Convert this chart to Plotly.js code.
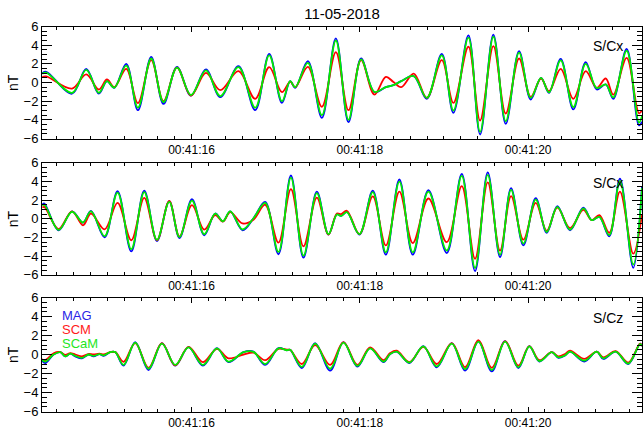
<!DOCTYPE html>
<html><head><meta charset="utf-8">
<script src="https://cdn.plot.ly/plotly-3.0.1.min.js"></script>
<style>html,body{margin:0;padding:0;background:#fff}#chart{width:644px;height:431px}</style>
</head><body><div id="chart"></div>
<script>
const chartTitle = '11-05-2018';
const seriesNames = ['MAG', 'SCM', 'SCaM'];
const tickVals = [16, 18, 20];
const tickText = ['00:41:16', '00:41:18', '00:41:20'];
const yTicks = [-6, -4, -2, 0, 2, 4, 6];
const panelLabels = ['S/Cx', 'S/Cx', 'S/Cz'];
const yTitle = 'nT';

// time: seconds after 00:41:00
const t1 = [14.227,14.274,14.580,14.749,14.898,14.995,15.082,15.224,15.363,15.521,15.667,15.827,15.993,16.171,16.341,16.558,16.757,16.923,17.074,17.172,17.232,17.382,17.549,17.715,17.865,18.015,18.173,18.309,18.399,18.491,18.641,18.796,18.974,19.112,19.290,19.429,19.587,19.734,19.892,20.031,20.153,20.248,20.387,20.537,20.684,20.815,20.922,21.012,21.171,21.317,21.353];
const mag1 = [1.0,1.15,-1.2,1.45,-1.2,0.14,-0.57,2.0,-2.97,2.75,-2.3,1.68,-1.4,1.4,-1.57,1.75,-2.97,3.07,-2.18,0.14,-0.57,2.29,-3.79,4.72,-4.25,2.57,-1.04,-0.5,-0.29,0.14,0.68,-1.75,3.07,-3.25,5.04,-5.57,5.14,-4.43,3.36,-1.82,0.5,-1.1,2.54,-2.89,2.18,-0.75,-0.2,-1.75,3.61,-4.6,-4.2];
const scm1 = [0.6,0.65,-0.65,0.86,-0.75,0.32,-0.5,1.47,-2.2,2.4,-2.0,1.6,-1.4,1.04,-0.82,1.21,-1.75,1.64,-1.04,0.1,-0.5,1.68,-2.6,3.25,-2.97,2.4,-1.29,0.61,0.05,-0.5,0.96,-1.64,2.39,-2.18,3.83,-4.07,3.9,-3.32,2.57,-1.54,0.43,-0.93,1.47,-1.75,1.21,-0.57,0.43,-1.3,2.64,-3.3,-3.0];
const scam1 = [0.95,1.05,-1.1,1.35,-1.1,0.14,-0.55,1.8,-2.7,2.57,-2.1,1.6,-1.35,1.3,-1.45,1.65,-2.7,2.9,-2.0,0.14,-0.5,2.1,-3.5,4.5,-4.0,2.47,-1.0,-0.5,-0.29,0.14,0.68,-1.65,2.9,-3.0,4.8,-5.3,4.9,-4.15,3.2,-1.64,0.5,-1.05,2.36,-2.64,2.0,-0.6,-0.2,-1.6,3.4,-4.3,-3.6];

const t2 = [14.227,14.251,14.420,14.580,14.710,14.805,14.967,15.121,15.284,15.438,15.589,15.735,15.857,16.005,16.151,16.281,16.373,16.460,16.606,16.736,16.875,17.033,17.181,17.330,17.489,17.627,17.727,17.778,17.846,17.995,18.154,18.309,18.470,18.629,18.815,19.033,19.211,19.369,19.520,19.666,19.797,19.943,20.090,20.221,20.347,20.498,20.656,20.755,20.846,20.964,21.091,21.249,21.353];
const mag2 = [1.5,1.63,-1.23,0.8,-0.41,0.84,-2.0,2.96,-3.5,3.0,-2.38,1.88,-2.06,2.1,-1.77,0.56,-0.27,0.8,-1.23,0.05,1.8,-3.8,4.63,-4.17,2.9,-1.7,0.48,0.3,0.73,-1.7,3.0,-3.85,4.2,-3.85,3.07,-3.67,4.8,-5.6,4.96,-4.1,3.28,-2.85,2.2,-1.5,1.35,-1.23,1.2,-0.15,0.2,-1.88,4.3,-5.25,3.5];
const scm2 = [1.2,1.27,-1.1,0.8,-0.7,0.56,-1.13,1.7,-2.3,2.24,-2.3,1.9,-1.9,1.45,-1.16,0.4,-0.3,0.7,-0.5,-0.1,1.5,-2.55,3.17,-2.95,2.27,-1.7,0.55,0.5,0.85,-1.65,2.4,-2.85,2.9,-2.6,2.17,-2.5,3.5,-4.28,3.9,-3.4,2.42,-2.24,1.7,-1.3,1.2,-1.0,0.95,-0.15,0.38,-1.5,2.9,-3.74,0.5];
const scam2 = [1.4,1.5,-1.2,0.75,-0.4,0.8,-1.86,2.8,-3.25,2.85,-2.25,1.8,-1.95,1.95,-1.65,0.55,-0.27,0.78,-1.15,0.05,1.7,-3.55,4.4,-3.95,2.75,-1.65,0.45,0.3,0.7,-1.65,2.85,-3.6,3.97,-3.6,2.9,-3.4,4.6,-5.27,4.7,-3.85,3.1,-2.65,2.05,-1.42,1.28,-1.15,1.12,-0.15,0.2,-1.75,4.05,-4.9,3.3];

const t3 = [14.223,14.262,14.361,14.441,14.500,14.559,14.619,14.698,14.777,14.836,14.907,14.955,15.034,15.094,15.192,15.331,15.489,15.648,15.806,15.964,16.135,16.302,16.439,16.618,16.736,16.875,17.033,17.133,17.172,17.311,17.469,17.647,17.805,17.971,18.122,18.280,18.360,18.439,18.589,18.755,18.914,19.093,19.251,19.409,19.568,19.726,19.884,20.014,20.133,20.280,20.359,20.438,20.498,20.667,20.815,20.893,21.040,21.190,21.329,21.353];
const mag3 = [-0.64,-0.9,0.0,0.25,-0.2,0.1,-0.2,-0.4,0.0,-0.2,0.05,-0.15,0.25,0.25,-1.17,1.3,-1.63,1.2,-1.17,0.78,-1.17,0.67,-0.8,0.25,0.3,-1.1,0.67,0.45,0.5,-1.42,1.2,-1.7,1.3,-1.27,0.67,-0.8,0.05,0.3,-0.9,0.88,-1.34,1.2,-1.7,1.38,-1.77,1.41,-1.42,0.88,-0.74,0.25,-0.35,-0.1,0.3,-0.74,0.3,-0.46,0.3,-1.0,1.13,0.9];
const scm3 = [-0.5,-0.6,0.13,0.25,-0.05,0.15,0.0,-0.2,0.05,0.0,0.1,0.0,0.25,0.25,-0.77,1.2,-1.4,1.2,-1.15,0.8,-0.8,0.6,-0.4,0.0,0.2,-0.6,0.6,0.5,0.5,-1.0,1.0,-1.1,1.3,-1.1,0.75,-0.6,0.15,0.4,-0.8,0.8,-1.0,1.2,-1.34,1.5,-1.4,1.41,-1.17,0.88,-0.6,0.25,-0.2,0.05,0.4,-0.46,0.3,-0.3,0.35,-0.85,1.13,0.9];
const scam3 = [-0.55,-0.75,0.0,0.25,-0.2,0.1,-0.15,-0.35,0.0,-0.15,0.05,-0.1,0.25,0.25,-1.1,1.25,-1.5,1.15,-1.1,0.75,-1.1,0.65,-0.75,0.25,0.28,-1.0,0.65,0.45,0.5,-1.3,1.15,-1.5,1.25,-1.2,0.65,-0.75,0.05,0.3,-0.85,0.85,-1.25,1.15,-1.55,1.35,-1.65,1.35,-1.35,0.85,-0.7,0.25,-0.3,-0.1,0.3,-0.65,0.3,-0.4,0.3,-0.95,1.1,0.9];

// ---- styling / layout ----
const W = 644, H = 431, ML = 42, MR = 2;
const PW = W - ML - MR;
const FONT = 'Liberation Sans, Arial, sans-serif';
const colors = ['#0000ff', '#ff0000', '#00ee00'];
const textColors = ['#2b1fe6', '#ff1a1a', '#1ee61e'];
const panelPix = [[26.5, 138.5], [162.7, 274.8], [297.5, 411.5]];
const px = x => (x - ML) / PW;
const py = y => 1 - y / H;

const panels = [
  {t: t1, data: [mag1, scm1, scam1]},
  {t: t2, data: [mag2, scm2, scam2]},
  {t: t3, data: [mag3, scm3, scam3]}
];

const traces = [];
panels.forEach((p, i) => {
  const sfx = i === 0 ? '' : String(i + 1);
  p.data.forEach((vals, k) => {
    traces.push({
      type: 'scatter', mode: 'lines', x: p.t, y: vals,
      name: seriesNames[k], showlegend: false,
      xaxis: 'x' + sfx, yaxis: 'y' + sfx,
      line: {color: colors[k], width: 1.8, shape: 'spline', smoothing: 1},
      hoverinfo: 'skip'
    });
  });
});

const layout = {
  width: W, height: H,
  margin: {l: ML, r: MR, t: 0, b: 0},
  paper_bgcolor: '#fff', plot_bgcolor: '#fff',
  showlegend: false,
  font: {family: FONT, color: '#000'},
  title: {text: chartTitle, font: {family: FONT, size: 15, color: '#000'},
          x: px(342), xref: 'paper', xanchor: 'center', y: py(14), yref: 'container', yanchor: 'middle'},
  annotations: []
};

panelPix.forEach((pp, i) => {
  const sfx = i === 0 ? '' : String(i + 1);
  const yName = 'y' + sfx;
  layout['xaxis' + sfx] = {
    anchor: yName, domain: [0, 1], range: [14.223, 21.353],
    tickmode: 'array', tickvals: tickVals, ticktext: tickText,
    ticks: 'inside', ticklen: 5, tickwidth: 1, tickcolor: '#000',
    showline: true, linecolor: '#000', linewidth: 1, mirror: 'allticks',
    showgrid: false, zeroline: false,
    tickfont: {family: FONT, size: 12, color: '#000'},
    minor: {tickmode: 'linear', tick0: 0, dtick: 0.2, ticks: 'inside', ticklen: 3, tickcolor: '#000', showgrid: false}
  };
  layout['yaxis' + sfx] = {
    anchor: 'x' + sfx, domain: [py(pp[1]), py(pp[0])], range: [-6, 6],
    tickmode: 'array', tickvals: yTicks,
    ticks: 'inside', ticklen: 10, tickwidth: 1, tickcolor: '#000',
    showline: true, linecolor: '#000', linewidth: 1, mirror: 'allticks',
    showgrid: false, zeroline: false,
    tickfont: {family: FONT, size: 13, color: '#000'},
    minor: {tickmode: 'linear', tick0: 0, dtick: 0.5, ticks: 'inside', ticklen: 5, tickcolor: '#000', showgrid: false}
  };
  layout.annotations.push({
    text: yTitle, xref: 'paper', yref: 'paper', x: px(12.5), y: py((pp[0] + pp[1]) / 2),
    xanchor: 'center', yanchor: 'middle', textangle: -90, showarrow: false,
    font: {family: FONT, size: 14, color: '#000'}
  });
  layout.annotations.push({
    text: panelLabels[i], xref: 'paper', yref: 'paper', x: px(608), y: py(pp[0] + 20),
    xanchor: 'center', yanchor: 'middle', showarrow: false,
    font: {family: FONT, size: 14, color: '#000'}
  });
});

const legendY = [315, 329, 343];
seriesNames.forEach((n, k) => {
  layout.annotations.push({
    text: n, xref: 'paper', yref: 'paper', x: px(61), y: py(legendY[k]),
    xanchor: 'left', yanchor: 'middle', showarrow: false, borderpad: 0,
    font: {family: FONT, size: 13, color: textColors[k]}
  });
});

Plotly.newPlot('chart', traces, layout, {staticPlot: true, displayModeBar: false});
</script>
</body></html>
